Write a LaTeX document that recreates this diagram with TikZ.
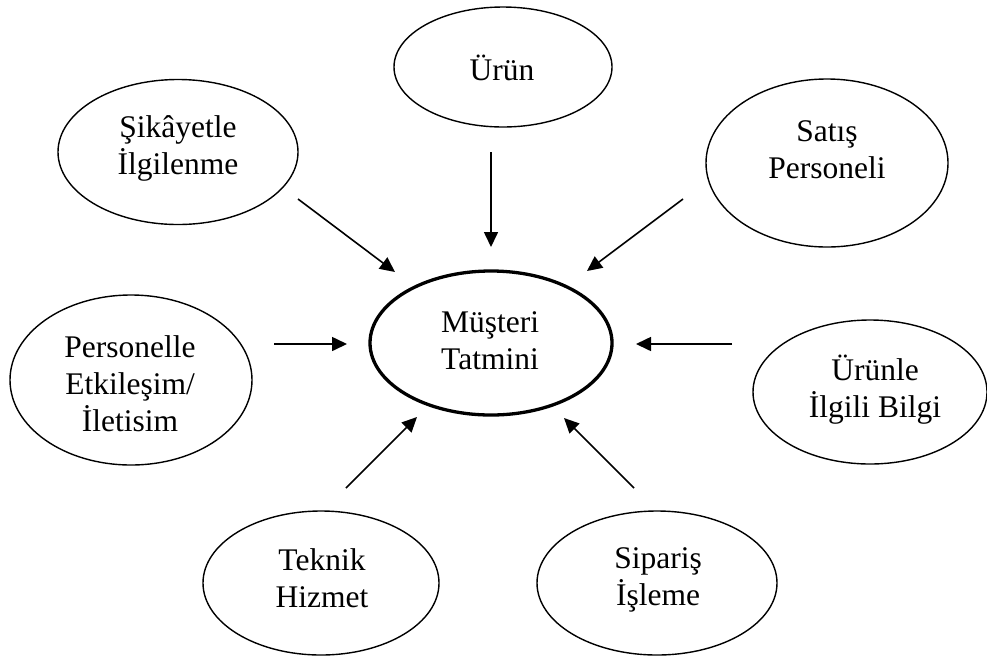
\documentclass[tikz,border=0pt]{standalone}
\usepackage{fontspec}
\setmainfont{Liberation Serif}
\usetikzlibrary{shapes.geometric,arrows.meta}

\tikzset{
  bubble/.style={draw, ellipse, line width=1.4pt, inner sep=0pt},
  core/.style={bubble, line width=3.3pt},
  txt/.style={align=center, inner sep=0pt, font=\fontsize{31.5}{37}\selectfont},
  flow/.style={-{Triangle[length=15pt,width=14pt]}, line width=1.6pt},
}

\begin{document}
\begin{tikzpicture}[x=1pt,y=-1pt]
  \useasboundingbox (0,0) rectangle (987,657);

  % centre: customer satisfaction
  \node[core, minimum width=242pt, minimum height=144pt] (core) at (491,343) {};
  \node[txt] (core-t) at (490,341) {Müşteri\\Tatmini};

  % surrounding factors
  \node[bubble, minimum width=218pt, minimum height=120pt] (urun) at (503,67) {};
  \node[txt] (urun-t) at (502,68) {Ürün};

  \node[bubble, minimum width=240pt, minimum height=145pt] (sikayet) at (178,152) {};
  \node[txt] (sikayet-t) at (178,148) {Şikâyetle\\İlgilenme};

  \node[bubble, minimum width=242pt, minimum height=168pt] (satis) at (827,163) {};
  \node[txt] (satis-t) at (827,150) {Satış\\Personeli};

  \node[bubble, minimum width=242pt, minimum height=170pt] (personel) at (131,380) {};
  \node[txt] (personel-t) at (130,384) {Personelle\\Etkileşim/\\İletisim};

  \node[bubble, minimum width=234pt, minimum height=144pt] (bilgi) at (870,392) {};
  \node[txt] (bilgi-t) at (875,390) {Ürünle\\İlgili Bilgi};

  \node[bubble, minimum width=236pt, minimum height=144pt] (teknik) at (321,583) {};
  \node[txt] (teknik-t) at (322,578) {Teknik\\Hizmet};

  \node[bubble, minimum width=240pt, minimum height=144pt] (siparis) at (657,583) {};
  \node[txt] (siparis-t) at (658,580) {Sipariş\\İşleme};

  % free-standing arrow ends
  \coordinate (a1s) at (491,152);  \coordinate (a1e) at (491,247);
  \coordinate (a2s) at (298,199);  \coordinate (a2e) at (395,272);
  \coordinate (a3s) at (683,199);  \coordinate (a3e) at (587,271);
  \coordinate (a4s) at (274,344);  \coordinate (a4e) at (347,344);
  \coordinate (a5s) at (732,344);  \coordinate (a5e) at (636,344);
  \coordinate (a6s) at (346,488);  \coordinate (a6e) at (417,417);
  \coordinate (a7s) at (634,488);  \coordinate (a7e) at (564,418);

  \draw[flow] (a1s) -- (a1e);
  \draw[flow] (a2s) -- (a2e);
  \draw[flow] (a3s) -- (a3e);
  \draw[flow] (a4s) -- (a4e);
  \draw[flow] (a5s) -- (a5e);
  \draw[flow] (a6s) -- (a6e);
  \draw[flow] (a7s) -- (a7e);
\end{tikzpicture}
\end{document}
